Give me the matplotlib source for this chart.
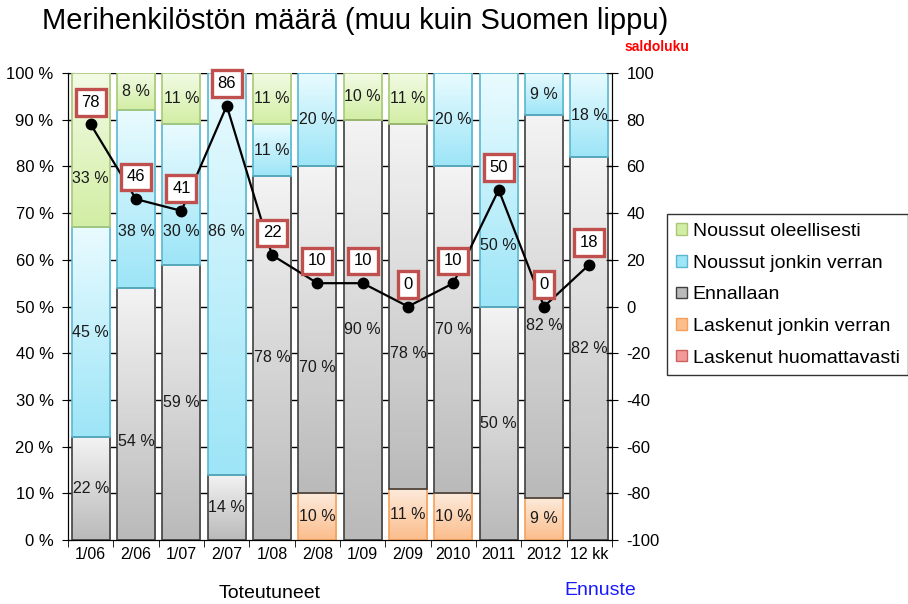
import numpy as np
import matplotlib
matplotlib.use('Agg')
import matplotlib.pyplot as plt
from matplotlib.colors import LinearSegmentedColormap
from matplotlib.patches import Patch

plt.rcParams['font.family'] = ['Liberation Sans', 'DejaVu Sans']
plt.rcParams['axes.unicode_minus'] = False

categories = ['1/06', '2/06', '1/07', '2/07', '1/08', '2/08', '1/09', '2/09', '2010', '2011', '2012', '12 kk']
laskenut_huom = [0, 0, 0, 0, 0, 0, 0, 0, 0, 0, 0, 0]
laskenut_jonkin = [0, 0, 0, 0, 0, 10, 0, 11, 10, 0, 9, 0]
ennallaan = [22, 54, 59, 14, 78, 70, 90, 78, 70, 50, 82, 82]
noussut_jonkin = [45, 38, 30, 86, 11, 20, 0, 0, 20, 50, 9, 18]
noussut_oleell = [33, 8, 11, 0, 11, 0, 10, 11, 0, 0, 0, 0]
saldoluku = [78, 46, 41, 86, 22, 10, 10, 0, 10, 50, 0, 18]

series = [
    ('Laskenut huomattavasti', laskenut_huom, '#fbe0e0', '#f29a9a', '#d06060'),
    ('Laskenut jonkin verran', laskenut_jonkin, '#fdebdc', '#fbbd8c', '#f5a05a'),
    ('Ennallaan', ennallaan, '#f3f3f3', '#bababa', '#404040'),
    ('Noussut jonkin verran', noussut_jonkin, '#e9fbff', '#9de5f7', '#5ab8d0'),
    ('Noussut oleellisesti', noussut_oleell, '#f3fbe6', '#d2eea4', '#a8c878'),
]

# label nudges (percentage points) where the labels were moved off the segment centre
label_nudge = {
    ('Noussut oleellisesti', 0): -6,
    ('Noussut jonkin verran', 1): -7,
    ('Noussut jonkin verran', 2): -8,
    ('Noussut jonkin verran', 3): 9,
    ('Noussut jonkin verran', 9): -12,
    ('Ennallaan', 1): -6,
    ('Ennallaan', 5): -8,
    ('Ennallaan', 7): -10,
    ('Ennallaan', 10): -4,
}

fig = plt.figure(figsize=(9.08, 6.04), dpi=100)
ax = fig.add_axes([0.075, 0.106, 0.599, 0.773])

x = np.arange(len(categories))
width = 0.84
bottom = np.zeros(len(categories))

for name, vals, ctop, cbot, cedge in series:
    vals = np.array(vals, dtype=float)
    bars = ax.bar(x, vals, width, bottom=bottom, facecolor='none',
                  edgecolor=cedge, linewidth=1.2, zorder=3)
    cmap = LinearSegmentedColormap.from_list(name, [cbot, ctop])
    grad = np.linspace(0, 1, 64).reshape(-1, 1)
    for rect, v in zip(bars, vals):
        if v <= 0:
            rect.set_visible(False)
            continue
        x0, y0 = rect.get_x(), rect.get_y()
        im = ax.imshow(grad, extent=[x0, x0 + rect.get_width(), y0, y0 + rect.get_height()],
                       origin='lower', aspect='auto', cmap=cmap, zorder=2)
        im.set_clip_path(rect)
    for i, (xi, b, v) in enumerate(zip(x, bottom, vals)):
        if v > 0:
            ax.text(xi, b + v / 2 + label_nudge.get((name, i), 0), f'{int(v)} %',
                    ha='center', va='center', fontsize=11.5, color='#1a1a1a', zorder=5)
    bottom += vals

ax.set_xlim(-0.5, len(categories) - 0.5)
ax.set_ylim(0, 100)
ax.set_yticks(np.arange(0, 101, 10))
ax.set_yticklabels([f'{v} %' for v in range(0, 101, 10)], fontsize=12)
for v in range(10, 101, 10):
    ax.axhline(v, color='black', linewidth=1, zorder=1)
ax.set_xticks(x)
ax.set_xticklabels(categories, fontsize=11.5)
ax.set_xticks(np.arange(-0.5, len(categories), 1), minor=True)
ax.tick_params(axis='x', which='major', length=0, pad=5)
ax.tick_params(axis='x', which='minor', length=5, direction='out')
ax.tick_params(axis='y', direction='inout', length=9, pad=6)
ax.spines['top'].set_visible(False)

ax2 = ax.twinx()
ax2.set_ylim(-100, 100)
ax2.set_yticks(np.arange(-100, 101, 20))
ax2.tick_params(axis='y', direction='inout', length=9, labelsize=12, pad=6)
ax2.spines['top'].set_visible(False)
ax2.plot(x, saldoluku, color='black', linewidth=1.6, marker='o', markersize=7.5, zorder=6)
for xi, s in zip(x, saldoluku):
    ax2.annotate(str(s), (xi, s), xytext=(0, 16), textcoords='offset points',
                 ha='center', va='center', fontsize=12, zorder=7,
                 bbox=dict(boxstyle='square,pad=0.35', facecolor='white',
                           edgecolor='#c0504d', linewidth=2.4))

handles = [Patch(facecolor=cbot, edgecolor=cedge, linewidth=1) for _, _, ctop, cbot, cedge in reversed(series)]
labels = [s[0] for s in reversed(series)]
fig.legend(handles, labels, loc='upper left', bbox_to_anchor=(0.735, 0.645),
           fontsize=14, frameon=True, fancybox=False, edgecolor='black',
           handlelength=0.55, handleheight=0.55, handletextpad=0.3,
           labelspacing=0.75, borderpad=0.45, borderaxespad=0)

fig.text(0.391, 0.965, 'Merihenkilöstön määrä (muu kuin Suomen lippu)', ha='center',
         va='center', fontsize=21)
fig.text(0.724, 0.922, 'saldoluku', ha='center', va='center', fontsize=10,
         color='red', fontweight='bold')
fig.text(0.297, 0.018, 'Toteutuneet', ha='center', va='center', fontsize=14)
fig.text(0.661, 0.022, 'Ennuste', ha='center', va='center', fontsize=14, color='#1a1aff')

fig.savefig('out.png', dpi=100)
